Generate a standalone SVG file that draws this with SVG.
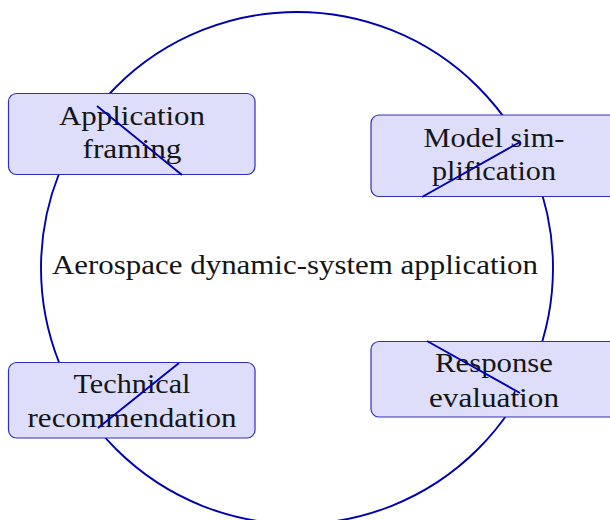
<svg xmlns="http://www.w3.org/2000/svg" width="610" height="520" viewBox="0 0 610 520">
<style>
.ring{fill:none;stroke:#0000b3;stroke-width:1.9}
.box{fill:#dedefa;stroke:#2e2ec4;stroke-width:1.2}
.conn{stroke:#0000b3;stroke-width:1.9;fill:none}
text{font-family:"Liberation Serif","Times New Roman",serif;font-size:28px;fill:#151515;text-anchor:middle}
</style>
<rect width="610" height="520" fill="#ffffff"/>
<g id="cycle">
<circle class="ring" cx="297" cy="268" r="256"/>
<text x="295" y="274" textLength="486" lengthAdjust="spacingAndGlyphs">Aerospace dynamic-system application</text>
</g>
<g id="application-framing">
<rect class="box" x="8.5" y="93.5" width="246.5" height="81" rx="8"/>
<text x="132" y="125" textLength="146" lengthAdjust="spacingAndGlyphs">Application</text>
<text x="132" y="158" textLength="99" lengthAdjust="spacingAndGlyphs">framing</text>
</g>
<g id="model-simplification">
<rect class="box" x="371" y="115" width="246.5" height="81.5" rx="8"/>
<text x="494" y="147" textLength="141" lengthAdjust="spacingAndGlyphs">Model sim-</text>
<text x="494" y="180" textLength="124" lengthAdjust="spacingAndGlyphs">plification</text>
</g>
<g id="response-evaluation">
<rect class="box" x="371" y="341.5" width="246.5" height="75.5" rx="8"/>
<text x="494" y="372" textLength="118" lengthAdjust="spacingAndGlyphs">Response</text>
<text x="494" y="407" textLength="130" lengthAdjust="spacingAndGlyphs">evaluation</text>
</g>
<g id="technical-recommendation">
<rect class="box" x="8.5" y="362.5" width="246.5" height="75.5" rx="8"/>
<text x="132" y="393" textLength="117" lengthAdjust="spacingAndGlyphs">Technical</text>
<text x="132" y="427" textLength="209" lengthAdjust="spacingAndGlyphs">recommendation</text>
</g>
<g id="connectors">
<line class="conn" x1="97" y1="106" x2="182" y2="175"/>
<line class="conn" x1="520" y1="142" x2="422" y2="197"/>
<line class="conn" x1="427" y1="341" x2="520" y2="393"/>
<line class="conn" x1="179" y1="363" x2="98" y2="428"/>
</g>
</svg>
